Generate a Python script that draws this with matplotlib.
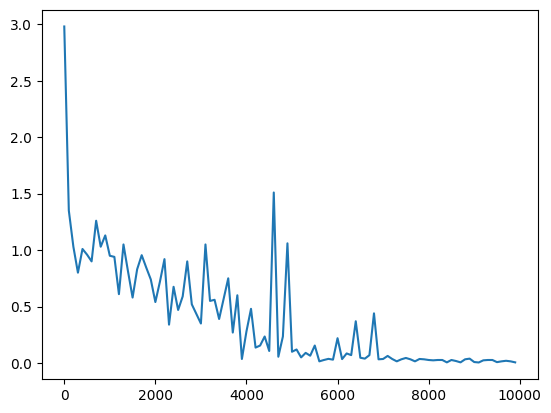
import matplotlib
matplotlib.use("Agg")
import matplotlib.pyplot as plt

# training steps, logged every 100
steps = list(range(0, 10000, 100))

loss = [
    2.98, 1.35, 1.03, 0.80, 1.01, 0.96, 0.90, 1.26, 1.03, 1.13,
    0.95, 0.94, 0.61, 1.05, 0.81, 0.58, 0.83, 0.955, 0.845, 0.74,
    0.54, 0.72, 0.92, 0.34, 0.675, 0.47, 0.59, 0.90, 0.52, 0.435,
    0.35, 1.05, 0.55, 0.56, 0.39, 0.57, 0.75, 0.27, 0.60, 0.036,
    0.28, 0.48, 0.137, 0.155, 0.235, 0.107, 1.51, 0.056, 0.235, 1.06,
    0.10, 0.12, 0.05, 0.09, 0.065, 0.155, 0.015, 0.027, 0.037, 0.03,
    0.22, 0.035, 0.085, 0.07, 0.37, 0.047, 0.039, 0.07, 0.44, 0.033,
    0.036, 0.063, 0.036, 0.015, 0.033, 0.045, 0.033, 0.015, 0.036, 0.033,
    0.027, 0.024, 0.027, 0.027, 0.006, 0.027, 0.018, 0.006, 0.033, 0.039,
    0.009, 0.005, 0.024, 0.027, 0.027, 0.008, 0.015, 0.02, 0.015, 0.006,
]

fig, ax = plt.subplots(figsize=(6.4, 4.8), dpi=100)
ax.plot(steps, loss)

fig.savefig("out.png", bbox_inches="tight")
